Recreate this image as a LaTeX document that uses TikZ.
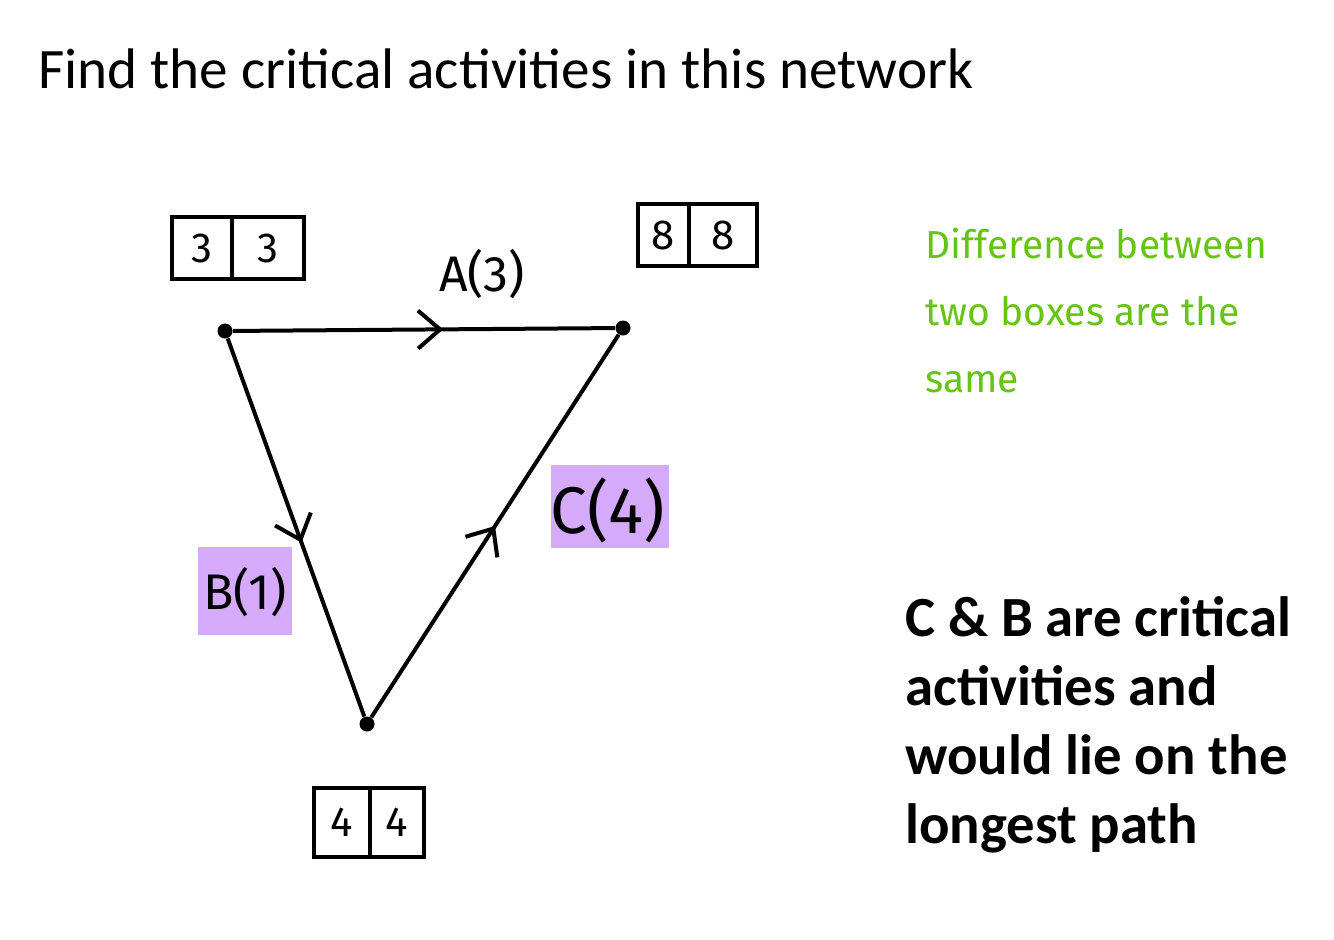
\documentclass[tikz,border=0pt]{standalone}
\usepackage{fontspec}
\setmainfont{Carlito}
\newfontfamily\hand{Fira Sans}
\usetikzlibrary{arrows.meta,decorations.markings}
\definecolor{hlpurple}{RGB}{213,170,250}
\definecolor{handgreen}{RGB}{102,196,20}
\begin{document}
\begin{tikzpicture}[x=0.5pt,y=-0.5pt,
  edge/.style={line width=2pt, postaction={decorate},
    decoration={markings, mark=at position #1 with {\arrow[line width=2pt]{Straight Barb[length=11pt,width=19pt]}}}},
  vertex/.style={circle, fill=black, inner sep=0pt, minimum size=7.5pt},
  cell/.style={draw, line width=2pt, inner sep=0pt, minimum height=31pt, font=\hand\fontsize{21}{21}\selectfont},
  lbl/.style={font=\hand\fontsize{25}{25}\selectfont, inner sep=0pt},
  hl/.style={fill=hlpurple, draw=none}
]
\useasboundingbox (0,0) rectangle (1334,939);

% title
\node[anchor=base west, inner sep=0pt, font=\fontsize{28.6}{28.6}\selectfont] (title) at (38,88) {Find the critical activities in this network};

% highlights
\fill[hl] (198,547) rectangle (292,635);
\fill[hl] (551,465) rectangle (669,548);

% vertices
\node[vertex] (v1) at (225,331) {};
\node[vertex] (v2) at (623,328) {};
\node[vertex] (v3) at (367,724) {};

% edges
\draw[edge=0.55] (v1) -- (v2);
\draw[edge=0.54] (v1) -- (v3);
\draw[edge=0.50] (v3) -- (v2);

% labels
\node[lbl] (la) at (482,274) {A(3)};
\node[lbl] (lb) at (245,592) {B(1)};
\node[lbl, font=\hand\fontsize{33}{33}\selectfont] (lc) at (608,510) {C(4)};

% boxes
\node[cell, minimum width=30pt] (b1l) at (202,248) {3};
\node[cell, minimum width=36pt] (b1r) at (268,248) {3};
\node[cell, minimum width=25.5pt] (b2l) at (663.5,235) {8};
\node[cell, minimum width=34pt] (b2r) at (723,235) {8};
\node[cell, minimum width=28pt, minimum height=34.5pt] (b3l) at (342,822) {4};
\node[cell, minimum width=27pt, minimum height=34.5pt] (b3r) at (397,822) {4};

% green note
\node[anchor=base west, align=left, inner sep=0pt, text=handgreen,
      font=\hand\fontsize{19.5}{33.5}\selectfont] (note) at (925,392)
  {Difference between\\two boxes are the\\same};

% conclusion
\node[anchor=base west, align=left, inner sep=0pt,
      font=\bfseries\fontsize{28.4}{34.5}\selectfont] (concl) at (905,843)
  {C \& B are critical\\activities and\\would lie on the\\longest path};
\end{tikzpicture}
\end{document}
